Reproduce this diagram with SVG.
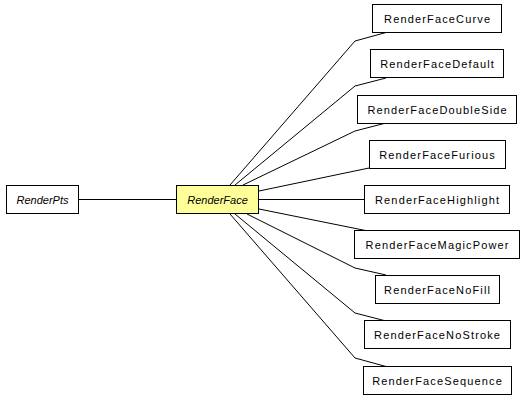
<svg xmlns="http://www.w3.org/2000/svg" width="525" height="400" viewBox="0 0 525 400">
<style>
.n rect{fill:#fff;stroke:#000;stroke-width:1}
.n text{font-family:"Liberation Sans",Arial,sans-serif;font-size:11px;letter-spacing:1.15px;text-anchor:middle;fill:#000}
.i text{font-style:italic;letter-spacing:0}
#RenderFace rect{fill:#ffff99}
.e{fill:none;stroke:#000;stroke-width:1}
</style>
<rect width="525" height="400" fill="#fff"/>
<g id="edges">
<polyline class="e" points="79,199.5 176,199.5"/>
<polyline class="e" points="230,185 355,41 386,32.5"/>
<polyline class="e" points="235,185 355,86 386,78"/>
<polyline class="e" points="243,185 355,131 386,123"/>
<polyline class="e" points="259,191 369,168"/>
<polyline class="e" points="259,199.5 364,199.5"/>
<polyline class="e" points="259,209 368,231"/>
<polyline class="e" points="247,214 355,268 386,275"/>
<polyline class="e" points="235,214 355,313 386,321"/>
<polyline class="e" points="230,214 355,358 386,366.5"/>
</g>
<g id="RenderPts" class="n i"><rect x="6.5" y="185.5" width="72" height="28"/><text x="42.5" y="203.5">RenderPts</text></g>
<g id="RenderFace" class="n i"><rect x="176.5" y="185.5" width="82" height="28"/><text x="217.5" y="203.5">RenderFace</text></g>
<g id="RenderFaceCurve" class="n"><rect x="372.5" y="4.5" width="129" height="28"/><text x="437.6" y="22.5">RenderFaceCurve</text></g>
<g id="RenderFaceDefault" class="n"><rect x="370.5" y="49.5" width="133" height="28"/><text x="437.6" y="67.5">RenderFaceDefault</text></g>
<g id="RenderFaceDoubleSide" class="n"><rect x="357.5" y="95.5" width="159" height="28"/><text x="437.6" y="113.5">RenderFaceDoubleSide</text></g>
<g id="RenderFaceFurious" class="n"><rect x="369.5" y="140.5" width="136" height="28"/><text x="437.6" y="158.5">RenderFaceFurious</text></g>
<g id="RenderFaceHighlight" class="n"><rect x="364.5" y="185.5" width="145" height="28"/><text x="437.6" y="203.5">RenderFaceHighlight</text></g>
<g id="RenderFaceMagicPower" class="n"><rect x="354.5" y="230.5" width="165" height="28"/><text x="437.6" y="248.5">RenderFaceMagicPower</text></g>
<g id="RenderFaceNoFill" class="n"><rect x="375.5" y="275.5" width="124" height="28"/><text x="437.6" y="293.5">RenderFaceNoFill</text></g>
<g id="RenderFaceNoStroke" class="n"><rect x="364.5" y="320.5" width="146" height="28"/><text x="437.6" y="338.5">RenderFaceNoStroke</text></g>
<g id="RenderFaceSequence" class="n"><rect x="363.5" y="366.5" width="148" height="28"/><text x="437.6" y="384.5">RenderFaceSequence</text></g>
</svg>
